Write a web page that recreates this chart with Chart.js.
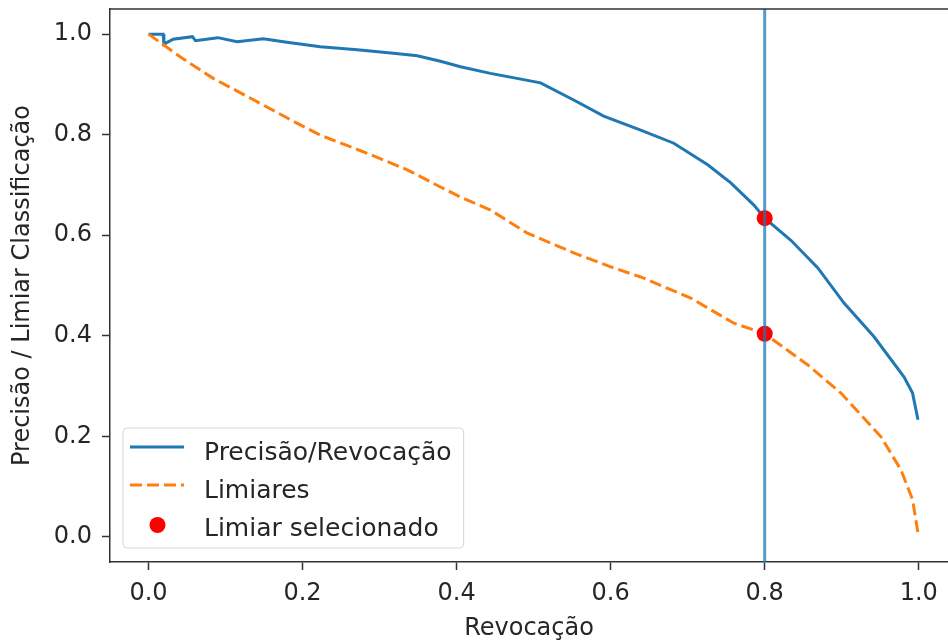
<!DOCTYPE html>
<html>
<head>
<meta charset="utf-8">
<script src="https://cdn.jsdelivr.net/npm/chart.js@4"></script>
<style>
html,body{margin:0;padding:0;background:#fff;overflow:hidden}
#wrap{position:absolute;left:0;top:0;width:948px;height:644px}
</style>
</head>
<body>
<div id="wrap"><canvas id="c" width="948" height="644"></canvas></div>
<script>
// ---- data ----
const recallPR = [0, 0.019, 0.02, 0.032, 0.057, 0.061, 0.09, 0.115, 0.149, 0.175, 0.223, 0.271, 0.318, 0.349, 0.379, 0.405, 0.444, 0.509, 0.552, 0.591, 0.639, 0.682, 0.726, 0.756, 0.786, 0.8, 0.834, 0.869, 0.903, 0.942, 0.981, 0.992, 0.999];
const precisionPR = [1.0, 1.0, 0.98, 0.99, 0.995, 0.987, 0.993, 0.985, 0.991, 0.985, 0.975, 0.969, 0.962, 0.957, 0.946, 0.935, 0.922, 0.903, 0.869, 0.837, 0.809, 0.783, 0.740, 0.704, 0.660, 0.634, 0.590, 0.535, 0.465, 0.398, 0.318, 0.286, 0.233];
const recallThr = [0, 0.042, 0.084, 0.132, 0.184, 0.223, 0.284, 0.336, 0.379, 0.405, 0.444, 0.492, 0.552, 0.604, 0.639, 0.704, 0.760, 0.8, 0.856, 0.899, 0.951, 0.977, 0.992, 0.999];
const thresholdValues = [1.0, 0.954, 0.912, 0.873, 0.830, 0.799, 0.763, 0.730, 0.696, 0.676, 0.650, 0.604, 0.565, 0.535, 0.517, 0.475, 0.425, 0.404, 0.342, 0.286, 0.199, 0.133, 0.074, 0.008];
const selectedRecall = [0.8, 0.8];
const selectedValues = [0.634, 0.404];
const xTickValues = [0, 0.2, 0.4, 0.6, 0.8, 1.0];
const yTickValues = [0, 0.2, 0.4, 0.6, 0.8, 1.0];
const xRange = [-0.05, 1.038];   // right part of the original frame is cut off in the picture
const yRange = [-0.05, 1.05];
const seriesLabels = ['Precisão/Revocação', 'Limiares', 'Limiar selecionado'];
const xTitle = 'Revocação';
const yTitle = 'Precisão / Limiar Classificação';

// ---- chart ----
const FONT = "'DejaVu Sans', 'Liberation Sans', sans-serif";
const TXT = '#262626';
const SPINE = '#333333';
Chart.defaults.font.family = FONT;
Chart.defaults.font.size = 24;
Chart.defaults.color = TXT;

const toPts = (xs, ys) => xs.map((x, i) => ({x: x, y: ys[i]}));

const framePlugin = {
  id: 'frame',
  afterDraw(chart) {
    const {ctx, chartArea: a} = chart;
    ctx.save();
    ctx.strokeStyle = SPINE;
    ctx.lineWidth = 1.5;
    ctx.beginPath();
    ctx.moveTo(a.left, a.top);
    ctx.lineTo(chart.width, a.top);
    ctx.stroke();
    ctx.restore();
  }
};

const legendPlugin = {
  id: 'boxLegend',
  afterDraw(chart) {
    const {ctx, chartArea: a} = chart;
    const items = chart.data.datasets.filter(d => d.label);
    ctx.save();
    ctx.font = '25px ' + FONT;
    let tw = 0;
    items.forEach(d => { tw = Math.max(tw, ctx.measureText(d.label).width); });
    const bx = a.left + 13, h = 120, by = a.bottom - 14 - h;
    const w = 7 + 54 + 20 + tw + 12;
    const r = 4;
    ctx.beginPath();
    ctx.moveTo(bx + r, by);
    ctx.arcTo(bx + w, by, bx + w, by + h, r);
    ctx.arcTo(bx + w, by + h, bx, by + h, r);
    ctx.arcTo(bx, by + h, bx, by, r);
    ctx.arcTo(bx, by, bx + w, by, r);
    ctx.closePath();
    ctx.fillStyle = 'rgba(255,255,255,0.8)';
    ctx.fill();
    ctx.strokeStyle = '#d6d6d6';
    ctx.lineWidth = 1;
    ctx.stroke();
    items.forEach((d, i) => {
      const hy = by + 19 + i * 38;
      const ty = by + 32 + i * 38;
      const hx0 = bx + 7, hx1 = bx + 61;
      if (d.showLine === false) {
        ctx.beginPath();
        ctx.fillStyle = d.backgroundColor;
        ctx.arc((hx0 + hx1) / 2 + 0.5, hy + 2, 8, 0, Math.PI * 2);
        ctx.fill();
      } else {
        ctx.beginPath();
        ctx.strokeStyle = d.borderColor;
        ctx.lineWidth = d.borderWidth;
        ctx.setLineDash(d.borderDash || []);
        ctx.moveTo(hx0, hy);
        ctx.lineTo(hx1, hy);
        ctx.stroke();
        ctx.setLineDash([]);
      }
      ctx.fillStyle = TXT;
      ctx.textBaseline = 'alphabetic';
      ctx.textAlign = 'left';
      ctx.fillText(d.label, bx + 81, ty);
    });
    ctx.restore();
  }
};

new Chart(document.getElementById('c'), {
  type: 'line',
  data: {
    datasets: [
      {
        label: seriesLabels[0],
        data: toPts(recallPR, precisionPR),
        borderColor: '#1f77b4',
        borderWidth: 3,
        pointRadius: 0,
        tension: 0,
        fill: false,
        order: 3
      },
      {
        label: seriesLabels[1],
        data: toPts(recallThr, thresholdValues),
        borderColor: '#ff7f0e',
        borderWidth: 3,
        borderDash: [12, 5],
        pointRadius: 0,
        tension: 0,
        fill: false,
        order: 2
      },
      {
        label: seriesLabels[2],
        data: toPts(selectedRecall, selectedValues),
        showLine: false,
        pointRadius: 8,
        pointBackgroundColor: '#ff0000',
        pointBorderWidth: 0,
        backgroundColor: '#ff0000',
        borderColor: '#ff0000',
        order: 1
      },
      {
        data: toPts([selectedRecall[0], selectedRecall[0]], yRange),
        borderColor: 'rgba(31,119,180,0.75)',
        borderWidth: 3,
        pointRadius: 0,
        fill: false,
        order: 0
      }
    ]
  },
  options: {
    responsive: false,
    animation: false,
    devicePixelRatio: 1,
    layout: {autoPadding: false, padding: {top: 9, left: 0, right: 0, bottom: 0}},
    plugins: {legend: {display: false}, tooltip: {enabled: false}},
    scales: {
      x: {
        type: 'linear',
        min: xRange[0],
        max: xRange[1],
        afterBuildTicks: s => { s.ticks = xTickValues.map(v => ({value: v})); },
        afterFit: s => { s.height = 82; s.paddingLeft = 0; s.paddingRight = 0; },
        ticks: {callback: v => v.toFixed(1), padding: 9, color: TXT, font: {size: 24}, maxRotation: 0},
        grid: {drawOnChartArea: false, drawTicks: true, tickLength: 8, tickColor: SPINE, tickWidth: 1.5},
        border: {display: true, color: SPINE, width: 1.5},
        title: {display: true, text: xTitle, color: TXT, font: {size: 24}, padding: {top: 0, bottom: 1}}
      },
      y: {
        type: 'linear',
        min: yRange[0],
        max: yRange[1],
        afterBuildTicks: s => { s.ticks = yTickValues.map(v => ({value: v})); },
        afterFit: s => { s.width = 110; s.paddingTop = 0; s.paddingBottom = 0; },
        ticks: {callback: v => v.toFixed(1), padding: 10, color: TXT, font: {size: 24}},
        grid: {drawOnChartArea: false, drawTicks: true, tickLength: 8, tickColor: SPINE, tickWidth: 1.5},
        border: {display: true, color: SPINE, width: 1.5},
        title: {display: true, text: yTitle, color: TXT, font: {size: 24}, padding: {top: 8, bottom: 0}}
      }
    }
  },
  plugins: [framePlugin, legendPlugin]
});
</script>
</body>
</html>
